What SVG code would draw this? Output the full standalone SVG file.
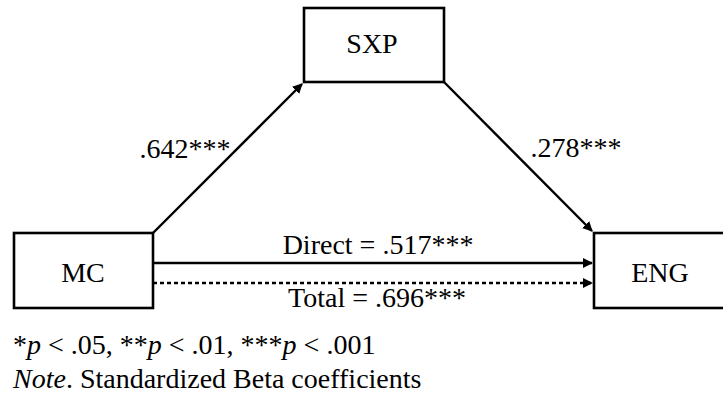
<svg xmlns="http://www.w3.org/2000/svg" width="723" height="394" viewBox="0 0 723 394">
<style>
.box{fill:#fff;stroke:#000;stroke-width:2.6}
.t{font-family:"Liberation Serif","Times New Roman",serif;font-size:28px;fill:#000}
.c{stroke:#000;stroke-width:2.4;fill:none}
</style>
<defs>
<marker id="ah" viewBox="0 0 10 10" refX="9" refY="5" markerWidth="4.2" markerHeight="4.2" orient="auto" markerUnits="strokeWidth">
<path d="M0,0 L10,5 L0,10 z" fill="#000"/>
</marker>
</defs>
<rect width="723" height="394" fill="#fff"/>
<g id="connectors">
<line class="c" x1="153" y1="233" x2="302" y2="84" marker-end="url(#ah)"/>
<line class="c" x1="444" y1="82" x2="592" y2="231" marker-end="url(#ah)"/>
<line class="c" x1="153" y1="263" x2="592" y2="263" marker-end="url(#ah)"/>
<line class="c" x1="153" y1="283" x2="592" y2="283" stroke-dasharray="4,3" marker-end="url(#ah)"/>
<text class="t" x="185" y="158" text-anchor="middle">.642***</text>
<text class="t" x="576" y="157" text-anchor="middle">.278***</text>
<text class="t" x="378" y="254" text-anchor="middle">Direct = .517***</text>
<text class="t" x="377" y="307" text-anchor="middle">Total = .696***</text>
</g>
<g id="SXP">
<rect class="box" x="304" y="8" width="140" height="74"/>
<text class="t" x="372" y="53" text-anchor="middle">SXP</text>
</g>
<g id="MC">
<rect class="box" x="14" y="233" width="139" height="75"/>
<text class="t" x="83" y="282" text-anchor="middle">MC</text>
</g>
<g id="ENG">
<rect class="box" x="594" y="233" width="140" height="75"/>
<text class="t" x="660" y="282" text-anchor="middle">ENG</text>
</g>
<g id="notes">
<text class="t" x="13" y="354">*<tspan font-style="italic">p</tspan> &lt; .05, **<tspan font-style="italic">p</tspan> &lt; .01, ***<tspan font-style="italic">p</tspan> &lt; .001</text>
<text class="t" x="13" y="388"><tspan font-style="italic">Note</tspan>. Standardized Beta coefficients</text>
</g>
</svg>
